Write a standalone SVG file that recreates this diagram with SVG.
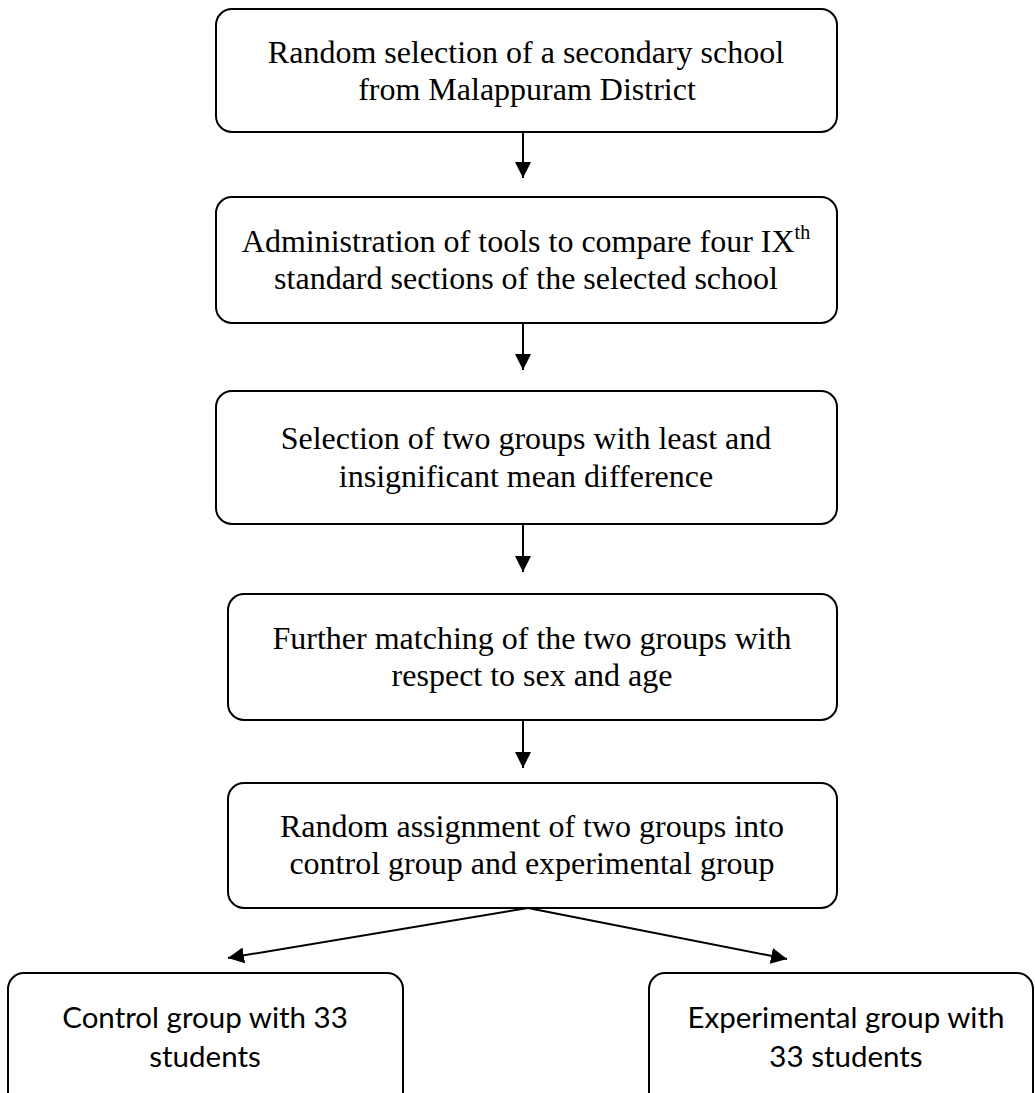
<svg xmlns="http://www.w3.org/2000/svg" width="1035" height="1093" viewBox="0 0 1035 1093">
<style>
.box{fill:#fff;stroke:#000;stroke-width:2}
.t{font-family:"Liberation Serif","Times New Roman",serif;font-size:32px;fill:#000;text-anchor:middle}
.c{font-family:Lato,"Open Sans",sans-serif;font-size:29.5px;fill:#000;text-anchor:middle}
.ln{stroke:#000;stroke-width:2;fill:none}
</style>
<defs>
<marker id="ah" viewBox="0 0 16 16" refX="16" refY="8" markerWidth="16" markerHeight="16" markerUnits="userSpaceOnUse" orient="auto">
<path d="M0,0 L16,8 L0,16 Z" fill="#000"/>
</marker>
</defs>
<rect width="1035" height="1093" fill="#fff"/>
<g id="n1"><rect class="box" x="216" y="9" width="621" height="123" rx="16"/>
<text class="t" x="526" y="63">Random selection of a secondary school</text>
<text class="t" x="527" y="100">from Malappuram District</text></g>
<g id="n2"><rect class="box" x="216" y="197" width="621" height="126" rx="16"/>
<text class="t" x="526" y="252">Administration of tools to compare four IX<tspan font-size="20" dy="-13">th</tspan></text>
<text class="t" x="526" y="289">standard sections of the selected school</text></g>
<g id="n3"><rect class="box" x="216" y="391" width="621" height="133" rx="16"/>
<text class="t" x="526" y="449">Selection of two groups with least and</text>
<text class="t" x="526" y="487">insignificant mean difference</text></g>
<g id="n4"><rect class="box" x="228" y="594" width="609" height="126" rx="16"/>
<text class="t" x="532" y="649">Further matching of the two groups with</text>
<text class="t" x="532" y="686">respect to sex and age</text></g>
<g id="n5"><rect class="box" x="228" y="783" width="609" height="125" rx="16"/>
<text class="t" x="532" y="837">Random assignment of two groups into</text>
<text class="t" x="532" y="874">control group and experimental group</text></g>
<g id="n6"><rect class="box" x="8" y="973" width="395" height="160" rx="16"/>
<text class="c" x="205" y="1028">Control group with 33</text>
<text class="c" x="205" y="1067">students</text></g>
<g id="n7"><rect class="box" x="649" y="973" width="384" height="160" rx="16"/>
<text class="c" x="846" y="1028">Experimental group with</text>
<text class="c" x="846" y="1067">33 students</text></g>
<g id="edges">
<line class="ln" x1="523" y1="133" x2="523" y2="178" marker-end="url(#ah)"/>
<line class="ln" x1="523" y1="323" x2="523" y2="370" marker-end="url(#ah)"/>
<line class="ln" x1="523" y1="525" x2="523" y2="572" marker-end="url(#ah)"/>
<line class="ln" x1="523" y1="721" x2="523" y2="768" marker-end="url(#ah)"/>
<line class="ln" x1="528" y1="908" x2="228" y2="958" marker-end="url(#ah)"/>
<line class="ln" x1="528" y1="908" x2="787" y2="959" marker-end="url(#ah)"/>
</g>
</svg>
